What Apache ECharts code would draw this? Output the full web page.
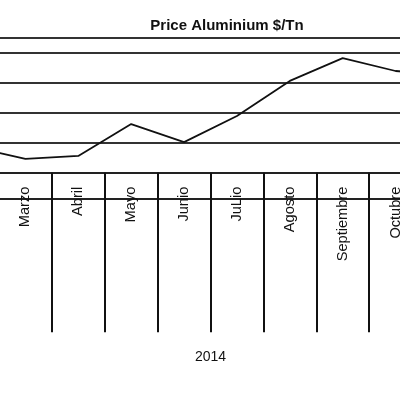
<!DOCTYPE html>
<html>
<head>
<meta charset="utf-8">
<script src="https://cdn.jsdelivr.net/npm/echarts@6/dist/echarts.min.js"></script>
<style>
html,body{margin:0;padding:0;width:400px;height:394px;overflow:hidden;background:#fff;}
#chart{position:absolute;left:-173.5px;top:0;width:800px;height:394px;}
</style>
</head>
<body>
<div id="chart"></div>
<script>
const months = ['Enero','Febrero','Marzo','Abril','Mayo','Junio','JuLio','Agosto','Septiembre','Octubre','Noviembre','Diciembre'];
const prices = [1725, 1686, 1646, 1656, 1762, 1702, 1789, 1906, 1982, 1939, 1925, 1910];
const yearLabel = '2014';
const titleText = 'Price Aluminium $/Tn';

const chart = echarts.init(document.getElementById('chart'), null, {renderer: 'canvas'});
chart.setOption({
  animation: false,
  backgroundColor: '#fff',
  title: {
    text: titleText,
    left: 'center',
    top: 13,
    textStyle: {fontFamily: 'Liberation Sans, Arial, sans-serif', fontSize: 15, fontWeight: 'bold', color: '#111'}
  },
  grid: {left: 66.2, width: 634.6, top: 37.7, bottom: 221.3, containLabel: false},
  xAxis: [{
    type: 'category',
    data: months,
    boundaryGap: true,
    name: yearLabel,
    nameLocation: 'middle',
    nameGap: 177,
    nameTextStyle: {fontFamily: 'Liberation Sans, Arial, sans-serif', fontSize: 14, color: '#111'},
    axisLine: {show: true, lineStyle: {color: '#222', width: 2}},
    axisTick: {show: true, interval: 0, length: 159.5, lineStyle: {color: '#111', width: 2}},
    axisLabel: {interval: 0, rotate: 90, margin: 14, fontFamily: 'Liberation Sans, Arial, sans-serif', fontSize: 14.6, color: '#111'}
  }, {
    type: 'category',
    data: months,
    position: 'bottom',
    offset: 26.3,
    axisLine: {show: true, lineStyle: {color: '#222', width: 2}},
    axisTick: {show: false},
    axisLabel: {show: false}
  }],
  yAxis: {
    type: 'value',
    min: 1600,
    max: 2050,
    interval: 100,
    axisLine: {show: false},
    axisTick: {show: false},
    axisLabel: {show: false},
    splitLine: {show: true, lineStyle: {color: '#333', width: 2}}
  },
  series: [{
    type: 'line',
    data: prices,
    showSymbol: false,
    symbol: 'none',
    lineStyle: {color: '#111', width: 1.8}
  }]
});
</script>
</body>
</html>
